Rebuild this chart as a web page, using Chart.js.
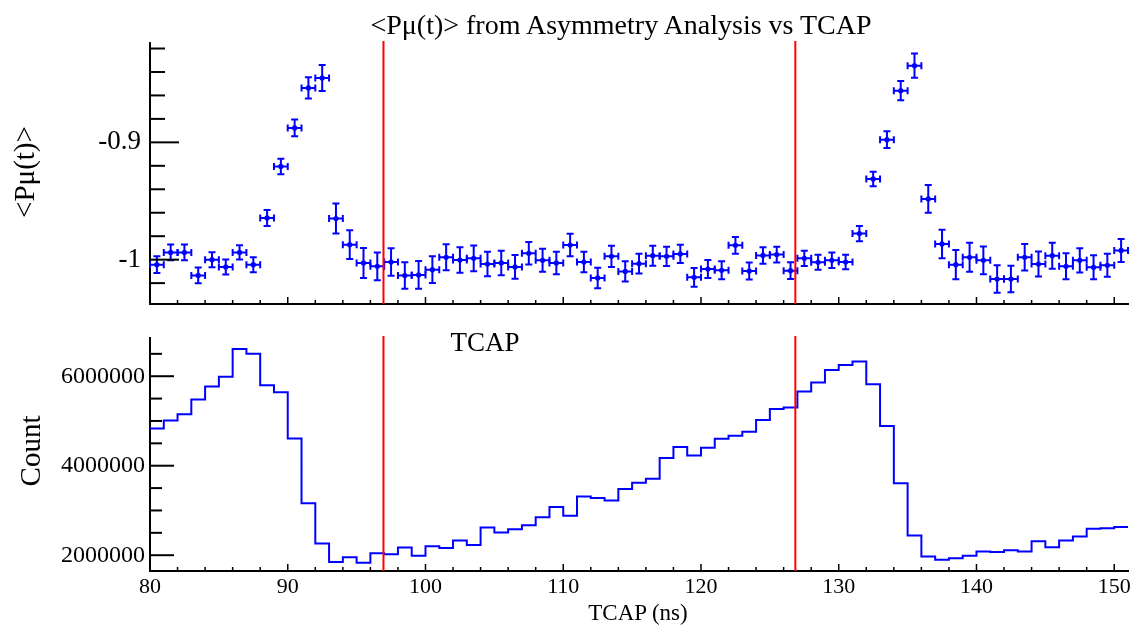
<!DOCTYPE html>
<html>
<head>
<meta charset="utf-8">
<title>Pmu vs TCAP</title>
<script src="https://cdn.jsdelivr.net/npm/chart.js@4.4.1/dist/chart.umd.min.js"></script>
<style>
  body { margin: 0; background: #fff; }
  #wrap { position: relative; width: 1143px; height: 628px; overflow: hidden; font-family: "Liberation Serif", "Times New Roman", serif; color: #000; }
  canvas { position: absolute; left: 0; top: 0; }
  .lbl { position: absolute; white-space: nowrap; line-height: 1; transform: translate(-50%, -50%); }
  .rot { transform: translate(-50%, -50%) rotate(-90deg); }
</style>
</head>
<body>
<div id="wrap">
  <canvas id="topChart" width="1143" height="628"></canvas>
  <canvas id="bottomChart" width="1143" height="628"></canvas>
  <div class="lbl" style="left:621px; top:25px; font-size:28px;">&lt;Pμ(t)&gt; from Asymmetry Analysis vs TCAP</div>
  <div class="lbl rot" style="left:24px; top:172px; font-size:29px;">&lt;Pμ(t)&gt;</div>
  <div class="lbl rot" style="left:30px; top:451px; font-size:29px;">Count</div>
  <div class="lbl" style="left:485px; top:342px; font-size:27px;">TCAP</div>
  <div class="lbl" style="left:638px; top:612px; font-size:23px;">TCAP (ns)</div>
</div>

<script>
// ----------------------------
// DATA
// ----------------------------

// binning of TCAP (ns)
const binLow = 80;
const binWidth = 1;

// <Pmu(t)> per bin (top panel)
const pmuValues = [
  -1.0043, -0.9938, -0.9938, -1.0134, -1.0000, -1.0062, -0.9938, -1.0043, -0.9644, -0.9205,
  -0.8877, -0.8536, -0.8451, -0.9650, -0.9872, -1.0028, -1.0057,
  -1.0020, -1.0136, -1.0130, -1.0085, -0.9980, -1.0003, -0.9989, -1.0037, -1.0028, -1.0062,
  -0.9946, -1.0006, -1.0028, -0.9875, -1.0020, -1.0156, -0.9972, -1.0100, -1.0034, -0.9966,
  -0.9972, -0.9951, -1.0151, -1.0080, -1.0091, -0.9878, -1.0097, -0.9964, -0.9957, -1.0094,
  -0.9989, -1.0023, -1.0006, -1.0020, -0.9778, -0.9312, -0.8977, -0.8559, -0.8346, -0.9482,
  -0.9866, -1.0043, -0.9980, -1.0006, -1.0165, -1.0165, -0.9980, -1.0037, -0.9966, -1.0057,
  -1.0006, -1.0065, -1.0048, -0.9921
];

// error on <Pmu(t)>
const pmuErrors = [
  0.0071, 0.0068, 0.0068, 0.0068, 0.0064, 0.0064, 0.0060, 0.0064, 0.0068, 0.0066,
  0.0071, 0.0091, 0.0111, 0.0128, 0.0122, 0.0128, 0.0119,
  0.0118, 0.0113, 0.0119, 0.0113, 0.0111, 0.0109, 0.0109, 0.0105, 0.0104, 0.0101,
  0.0096, 0.0098, 0.0096, 0.0095, 0.0088, 0.0088, 0.0090, 0.0087, 0.0085, 0.0085,
  0.0081, 0.0078, 0.0079, 0.0077, 0.0077, 0.0072, 0.0072, 0.0070, 0.0068, 0.0071,
  0.0066, 0.0064, 0.0066, 0.0062, 0.0064, 0.0062, 0.0071, 0.0083, 0.0104, 0.0119,
  0.0122, 0.0125, 0.0124, 0.0118, 0.0117, 0.0113, 0.0113, 0.0107, 0.0111, 0.0111,
  0.0104, 0.0102, 0.0098, 0.0098
];

// TCAP counts per bin (bottom panel)
const tcapCounts = [
  4830000, 5010000, 5150000, 5480000, 5770000, 5990000, 6610000, 6500000, 5800000, 5640000,
  4610000, 3160000, 2260000, 1850000, 1955000, 1830000, 2045000,
  2020000, 2170000, 1990000, 2200000, 2160000, 2330000, 2230000, 2620000, 2510000, 2580000,
  2670000, 2850000, 3080000, 2880000, 3310000, 3280000, 3220000, 3480000, 3620000, 3710000,
  4170000, 4420000, 4230000, 4400000, 4600000, 4670000, 4760000, 5020000, 5270000, 5300000,
  5660000, 5860000, 6140000, 6250000, 6330000, 5820000, 4890000, 3610000, 2440000, 1970000,
  1900000, 1930000, 1990000, 2080000, 2070000, 2110000, 2080000, 2310000, 2180000, 2330000,
  2420000, 2590000, 2600000, 2630000
];

// red cut lines (ns)
const cutLines = [96.95, 126.85];

// axis ranges and tick steps: [min, max, minor step, labelled step]
const xAxisDef = [80, 151, 2, 10];
const pmuAxisDef = [-1.0378, -0.8153, 0.02, 0.1];
const countAxisDef = [1647000, 6854000, 500000, 2000000];

// ----------------------------
// HELPERS / PLUGINS
// ----------------------------
const BLUE = "#0000ff";

function isMajor(v, every) {
  const r = v / every;
  return Math.abs(r - Math.round(r)) < 1e-6;
}

// tick values at every multiple of step inside [min, max]
function tickValues(def) {
  const [min, max, step] = def;
  const out = [];
  for (let k = Math.ceil(min / step - 1e-9); k * step <= max + 1e-9; k++) {
    out.push({ value: Math.round(k * step * 1e6) / 1e6 });
  }
  return out;
}

// ROOT style ticks drawn inside the frame
const inwardTicks = {
  id: "inwardTicks",
  afterDraw(chart, args, opts) {
    const ctx = chart.ctx;
    const area = chart.chartArea;
    ctx.save();
    ctx.strokeStyle = "#000";
    ["x", "y"].forEach(id => {
      const scale = chart.scales[id];
      const o = opts[id];
      ctx.lineWidth = o.width;
      scale.ticks.forEach(t => {
        const len = isMajor(t.value, o.every) ? o.major : o.minor;
        const p = scale.getPixelForValue(t.value);
        ctx.beginPath();
        if (id === "x") {
          ctx.moveTo(p, area.bottom);
          ctx.lineTo(p, area.bottom - len);
        } else {
          ctx.moveTo(area.left, p);
          ctx.lineTo(area.left + len, p);
        }
        ctx.stroke();
      });
    });
    ctx.restore();
  }
};

// vertical red lines
const cutLinePlugin = {
  id: "cutLinePlugin",
  afterDatasetsDraw(chart) {
    const ctx = chart.ctx;
    const area = chart.chartArea;
    ctx.save();
    ctx.strokeStyle = "#ff0000";
    ctx.lineWidth = 2;
    cutLines.forEach(v => {
      const p = chart.scales.x.getPixelForValue(v);
      ctx.beginPath();
      ctx.moveTo(p, area.top - 2);
      ctx.lineTo(p, area.bottom);
      ctx.stroke();
    });
    ctx.restore();
  }
};

// x and y error bars with end caps
const errorBars = {
  id: "errorBars",
  afterDatasetsDraw(chart) {
    const ctx = chart.ctx;
    const xs = chart.scales.x;
    const ys = chart.scales.y;
    const cap = 3.5;
    ctx.save();
    ctx.strokeStyle = BLUE;
    ctx.lineWidth = 2;
    pmuValues.forEach((v, i) => {
      const xc = binLow + (i + 0.5) * binWidth;
      const px = xs.getPixelForValue(xc);
      const x0 = xs.getPixelForValue(xc - binWidth / 2);
      const x1 = xs.getPixelForValue(xc + binWidth / 2);
      const py = ys.getPixelForValue(v);
      const y0 = ys.getPixelForValue(v - pmuErrors[i]);
      const y1 = ys.getPixelForValue(v + pmuErrors[i]);
      ctx.beginPath();
      ctx.moveTo(px, y0); ctx.lineTo(px, y1);
      ctx.moveTo(px - cap, y0); ctx.lineTo(px + cap, y0);
      ctx.moveTo(px - cap, y1); ctx.lineTo(px + cap, y1);
      ctx.moveTo(x0, py); ctx.lineTo(x1, py);
      ctx.moveTo(x0, py - cap); ctx.lineTo(x0, py + cap);
      ctx.moveTo(x1, py - cap); ctx.lineTo(x1, py + cap);
      ctx.stroke();
    });
    ctx.restore();
  }
};

Chart.defaults.font.family = '"Liberation Serif", "Times New Roman", serif';
Chart.defaults.color = "#000";

function axis(def, extra) {
  return Object.assign({
    type: "linear", min: def[0], max: def[1],
    afterBuildTicks: s => { s.ticks = tickValues(def); },
    grid: { display: false, drawTicks: false },
    border: { display: true, color: "#000", width: 2 }
  }, extra);
}

// ----------------------------
// TOP PANEL: <Pmu(t)>
// ----------------------------
function drawPmuChart() {
  const points = pmuValues.map((v, i) => ({ x: binLow + (i + 0.5) * binWidth, y: v }));
  new Chart(document.getElementById("topChart"), {
    type: "scatter",
    data: {
      datasets: [{
        data: points,
        pointRadius: 2.6,
        pointBackgroundColor: BLUE,
        pointBorderWidth: 0,
        showLine: false
      }]
    },
    options: {
      responsive: false,
      animation: false,
      layout: { padding: { left: 0, right: 15, top: 43, bottom: 324 } },
      plugins: {
        legend: { display: false },
        tooltip: { enabled: false },
        inwardTicks: {
          x: { every: xAxisDef[3], major: 7, minor: 4, width: 1.5 },
          y: { every: pmuAxisDef[3], major: 29, minor: 15, width: 2 }
        }
      },
      scales: {
        x: axis(xAxisDef, {
          afterFit: s => { s.height = 0; },
          ticks: { display: false, autoSkip: false }
        }),
        y: axis(pmuAxisDef, {
          afterFit: s => { s.width = 150; },
          ticks: {
            autoSkip: false, padding: 9, font: { size: 27 }, color: "#000",
            callback: v => isMajor(v, pmuAxisDef[3]) ? String(Math.round(v * 10) / 10) : ""
          }
        })
      }
    },
    plugins: [errorBars, cutLinePlugin, inwardTicks]
  });
}

// ----------------------------
// BOTTOM PANEL: TCAP histogram
// ----------------------------
function drawCountChart() {
  const steps = tcapCounts.map((c, i) => ({ x: binLow + i * binWidth, y: c }));
  steps.push({ x: binLow + tcapCounts.length * binWidth, y: tcapCounts[tcapCounts.length - 1] });
  new Chart(document.getElementById("bottomChart"), {
    type: "line",
    data: {
      datasets: [{
        data: steps,
        stepped: "before",
        borderColor: BLUE,
        borderWidth: 2,
        pointRadius: 0,
        fill: false
      }]
    },
    options: {
      responsive: false,
      animation: false,
      layout: { padding: { left: 0, right: 15, top: 338, bottom: 12 } },
      plugins: {
        legend: { display: false },
        tooltip: { enabled: false },
        inwardTicks: {
          x: { every: xAxisDef[3], major: 7, minor: 4, width: 1.5 },
          y: { every: countAxisDef[3], major: 24, minor: 12, width: 2 }
        }
      },
      scales: {
        x: axis(xAxisDef, {
          afterFit: s => { s.height = 45; },
          ticks: {
            autoSkip: false, maxRotation: 0, padding: 3, font: { size: 22 }, color: "#000",
            callback: v => isMajor(v, xAxisDef[3]) ? String(Math.round(v)) : ""
          }
        }),
        y: axis(countAxisDef, {
          afterFit: s => { s.width = 150; },
          ticks: {
            autoSkip: false, padding: 5, font: { size: 24 }, color: "#000",
            callback: v => isMajor(v, countAxisDef[3]) ? String(Math.round(v)) : ""
          }
        })
      }
    },
    plugins: [cutLinePlugin, inwardTicks]
  });
}

drawPmuChart();
drawCountChart();
</script>
</body>
</html>
